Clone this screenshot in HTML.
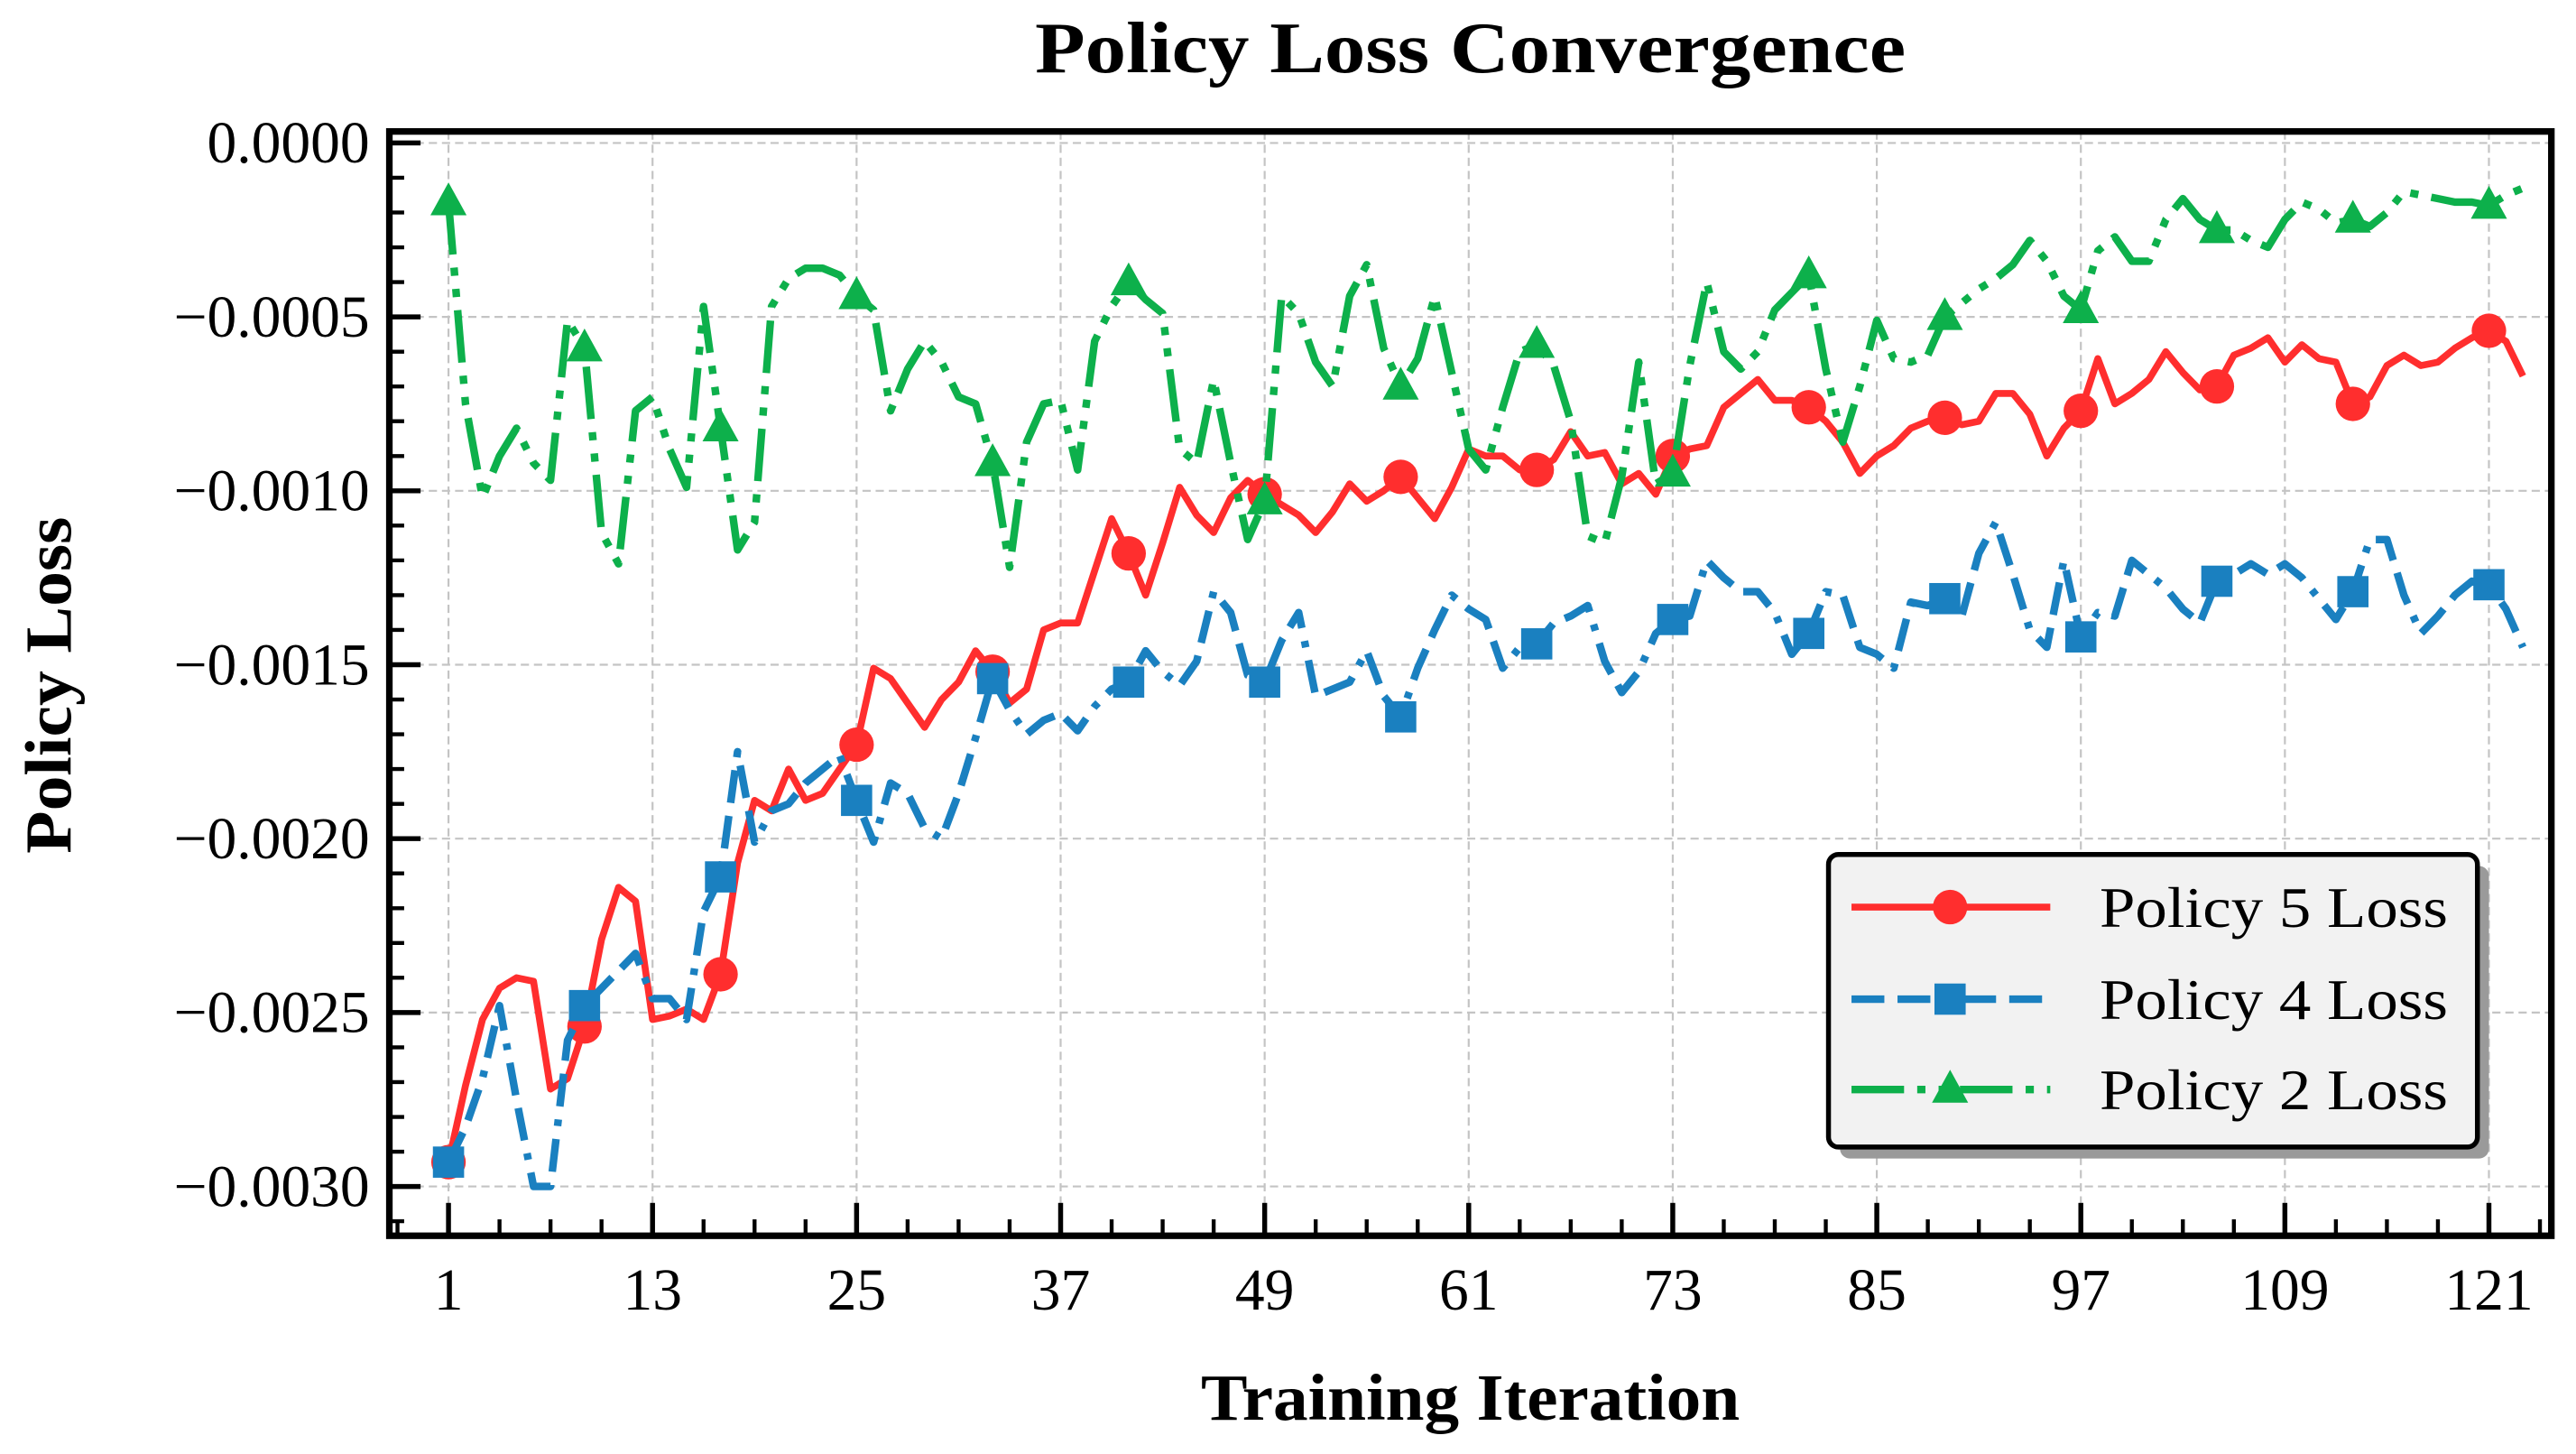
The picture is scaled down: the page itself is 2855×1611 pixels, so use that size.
<!DOCTYPE html>
<html>
<head>
<meta charset="utf-8">
<title>Policy Loss Convergence</title>
<style>
html,body{margin:0;padding:0;background:#fff;}
svg{display:block;}
text{font-family:"Liberation Serif","Times New Roman",serif;fill:#000;}
</style>
</head>
<body>
<svg id="chart" width="2855" height="1611" viewBox="0 0 1568 884.8" preserveAspectRatio="none" xmlns="http://www.w3.org/2000/svg">
  <rect x="0" y="0" width="1568" height="884.8" fill="#fff"/>
  <g id="grid"></g>
  <g id="series"></g>
  <g id="axes"></g>
  <text x="895" y="44" text-anchor="middle" font-size="44" font-weight="bold" textLength="530" lengthAdjust="spacingAndGlyphs">Policy Loss Convergence</text>
  <text x="895" y="864" text-anchor="middle" font-size="40" font-weight="bold" textLength="328" lengthAdjust="spacingAndGlyphs">Training Iteration</text>
  <text transform="translate(43,417) rotate(-90)" x="0" y="0" text-anchor="middle" font-size="40" font-weight="bold" textLength="205" lengthAdjust="spacingAndGlyphs">Policy Loss</text>
  <g id="legend"></g>
</svg>
<script>
const xTicks = [1, 13, 25, 37, 49, 61, 73, 85, 97, 109, 121];
const yTicks = [0, -0.0005, -0.001, -0.0015, -0.002, -0.0025, -0.003];
const yTickLabels = ["0.0000", "\u22120.0005", "\u22120.0010", "\u22120.0015", "\u22120.0020", "\u22120.0025", "\u22120.0030"];
const seriesNames = ["Policy 5 Loss", "Policy 4 Loss", "Policy 2 Loss"];

const policy5 = [-0.00293,-0.00271,-0.00252,-0.00243,-0.0024,-0.00241,-0.00272,-0.00269,-0.00254,-0.00229,
-0.00214,-0.00218,-0.00252,-0.00251,-0.00249,-0.00252,-0.00239,-0.00207,-0.00189,-0.00192,
-0.0018,-0.00189,-0.00187,-0.0018,-0.00173,-0.00151,-0.00154,-0.00161,-0.00168,-0.0016,
-0.00155,-0.00146,-0.00152,-0.00161,-0.00157,-0.0014,-0.00138,-0.00138,-0.00123,-0.00108,
-0.00118,-0.0013,-0.00115,-0.00099,-0.00107,-0.00112,-0.00102,-0.00097,-0.00101,-0.00104,
-0.00107,-0.00112,-0.00106,-0.00098,-0.00103,-0.001,-0.00096,-0.00102,-0.00108,-0.00099,
-0.00088,-0.0009,-0.0009,-0.00094,-0.00094,-0.00091,-0.00083,-0.0009,-0.00089,-0.00098,
-0.00095,-0.00101,-0.0009,-0.00088,-0.00087,-0.00076,-0.00072,-0.00068,-0.00074,-0.00074,
-0.00076,-0.0008,-0.00086,-0.00095,-0.0009,-0.00087,-0.00082,-0.0008,-0.00079,-0.00081,
-0.0008,-0.00072,-0.00072,-0.00078,-0.0009,-0.00082,-0.00077,-0.00062,-0.00075,-0.00072,
-0.00068,-0.0006,-0.00066,-0.00071,-0.0007,-0.00061,-0.00059,-0.00056,-0.00063,-0.00058,
-0.00062,-0.00063,-0.00075,-0.00073,-0.00064,-0.00061,-0.00064,-0.00063,-0.00059,-0.00056,
-0.00054,-0.00057,-0.00067];

const policy4 = [-0.00293,-0.00283,-0.00269,-0.00248,-0.00275,-0.003,-0.003,-0.00258,-0.00248,-0.00243,
-0.00238,-0.00233,-0.00246,-0.00246,-0.00252,-0.00221,-0.00211,-0.00175,-0.00201,-0.00192,
-0.0019,-0.00184,-0.0018,-0.00176,-0.00189,-0.00201,-0.00184,-0.00187,-0.00197,-0.002,
-0.00187,-0.00171,-0.00154,-0.00163,-0.0017,-0.00166,-0.00164,-0.00169,-0.00162,-0.00157,
-0.00155,-0.00146,-0.00152,-0.00156,-0.00149,-0.00129,-0.00135,-0.00153,-0.00155,-0.00143,
-0.00135,-0.00159,-0.00157,-0.00155,-0.00146,-0.00159,-0.00165,-0.00151,-0.0014,-0.0013,
-0.00134,-0.00137,-0.00151,-0.00145,-0.00144,-0.00138,-0.00136,-0.00133,-0.00149,-0.00158,
-0.00152,-0.00141,-0.00137,-0.00136,-0.0012,-0.00125,-0.00129,-0.00129,-0.00135,-0.00147,
-0.00141,-0.00129,-0.0013,-0.00145,-0.00147,-0.00151,-0.00132,-0.00133,-0.00131,-0.00136,
-0.00118,-0.00109,-0.00124,-0.0014,-0.00145,-0.0012,-0.00142,-0.00135,-0.00136,-0.0012,
-0.00124,-0.00128,-0.00134,-0.00138,-0.00126,-0.00124,-0.00121,-0.00124,-0.00121,-0.00125,
-0.00131,-0.00137,-0.00129,-0.00114,-0.00114,-0.0013,-0.00141,-0.00136,-0.0013,-0.00126,
-0.00127,-0.00134,-0.00145];

const policy2 = [-0.00017,-0.00075,-0.00102,-0.0009,-0.00082,-0.00092,-0.00097,-0.00051,-0.00059,-0.00112,
-0.00121,-0.00077,-0.00073,-0.00088,-0.00099,-0.00047,-0.00082,-0.00117,-0.00109,-0.00047,
-0.00039,-0.00036,-0.00036,-0.00038,-0.00044,-0.00048,-0.00077,-0.00065,-0.00057,-0.00063,
-0.00073,-0.00075,-0.00092,-0.00122,-0.00086,-0.00075,-0.00074,-0.00094,-0.00057,-0.00047,
-0.0004,-0.00045,-0.00049,-0.00088,-0.00092,-0.00068,-0.00092,-0.00114,-0.00103,-0.00044,
-0.00049,-0.00063,-0.0007,-0.00044,-0.00035,-0.00059,-0.0007,-0.00062,-0.00044,-0.00066,
-0.00088,-0.00094,-0.00076,-0.0006,-0.00058,-0.00064,-0.0008,-0.00113,-0.00115,-0.00096,
-0.00063,-0.00098,-0.00095,-0.00064,-0.0004,-0.0006,-0.00065,-0.0006,-0.00048,-0.00043,
-0.00038,-0.00065,-0.00086,-0.0007,-0.00051,-0.00062,-0.00063,-0.00061,-0.0005,-0.00046,
-0.00042,-0.00039,-0.00035,-0.00028,-0.00034,-0.00044,-0.00048,-0.00031,-0.00027,-0.00034,
-0.00034,-0.00022,-0.00016,-0.00022,-0.00025,-0.00025,-0.00028,-0.0003,-0.00022,-0.00017,
-0.00019,-0.00023,-0.00022,-0.00024,-0.0002,-0.00014,-0.00015,-0.00016,-0.00017,-0.00017,
-0.00018,-0.00015,-0.00013];

const NS = "http://www.w3.org/2000/svg";
const PL = 237, PR = 1553, PT = 80, PB = 752;
function xScale(i) { return 273 + (i - 1) * (1242 / 120); }
function yScale(v) { return 87 + (-v) * (635 / 0.003); }
function mk(tag, attrs, parent) {
  const el = document.createElementNS(NS, tag);
  for (const k in attrs) el.setAttribute(k, attrs[k]);
  parent.appendChild(el);
  return el;
}
const grid = document.getElementById("grid");
const axes = document.getElementById("axes");
const seriesG = document.getElementById("series");
const legend = document.getElementById("legend");

xTicks.forEach(t => {
  const l = mk("line", {x1: xScale(t), x2: xScale(t), y1: PT, y2: PB, stroke: "#c4c4c4", "stroke-width": 1.2, "stroke-dasharray": "5 3"}, grid);
  
  
});
yTicks.forEach(t => {
  const l = mk("line", {x1: PL, x2: PR, y1: yScale(t), y2: yScale(t), stroke: "#c4c4c4", "stroke-width": 1.2, "stroke-dasharray": "5 3"}, grid);
  
  
});

const seriesData = [policy5, policy4, policy2];
const colors = ["#ff2e2e", "#1a80c0", "#0db04b"];
const dashes = ["none", "20 8 20 8 4 8", "32 8 5 8 5 8"];
const widths = [4.2, 4.6, 4.6];
const seriesKeys = ["policy-5", "policy-4", "policy-2"];

function marker(kind, cx, cy, color, parent) {
  let m;
  if (kind === 0) m = mk("circle", {cx: cx, cy: cy, r: 10.5, fill: color}, parent);
  else if (kind === 1) m = mk("rect", {x: cx - 9.5, y: cy - 9.5, width: 19, height: 19, fill: color}, parent);
  else m = mk("polygon", {points: (cx) + "," + (cy - 12) + " " + (cx - 11) + "," + (cy + 8) + " " + (cx + 11) + "," + (cy + 8), fill: color}, parent);
  return m;
}

seriesData.forEach((arr, s) => {
  const pts = arr.map((v, i) => xScale(i + 1).toFixed(2) + "," + yScale(v).toFixed(2)).join(" ");
  const pl = mk("polyline", {points: pts, fill: "none", stroke: colors[s], "stroke-width": widths[s], "stroke-linejoin": "round", "stroke-dasharray": dashes[s]}, seriesG);
  
  
  for (let i = 0; i < arr.length; i += 8) {
    const m = marker(s, xScale(i + 1), yScale(arr[i]), colors[s], seriesG);
    
    
  }
});

const frame = mk("rect", {x: PL, y: PT, width: PR - PL, height: PB - PT, fill: "none", stroke: "#000", "stroke-width": 4}, axes);



for (let t = -2; t <= 124; t += 3) {
  const major = ((t - 1) % 12 === 0);
  const len = major ? 20 : 10;
  const tk = mk("line", {x1: xScale(t), x2: xScale(t), y1: PB, y2: PB - len, stroke: "#000", "stroke-width": major ? 3 : 2.4}, axes);
  
  
}
xTicks.forEach(t => {
  const tx = mk("text", {x: xScale(t), y: 797, "text-anchor": "middle", "font-size": 36}, axes);
  tx.textContent = String(t);
  
  
});

for (let k = 0; k <= 31; k++) {
  const v = -k * 0.0001;
  const major = (k % 5 === 0);
  const len = major ? 19 : 9;
  const tk = mk("line", {x1: PL, x2: PL + len, y1: yScale(v), y2: yScale(v), stroke: "#000", "stroke-width": major ? 3 : 2.4}, axes);
  
  
}
yTicks.forEach((t, i) => {
  const tx = mk("text", {x: 225, y: yScale(t) + 12, "text-anchor": "end", "font-size": 36}, axes);
  tx.textContent = yTickLabels[i];
  
  
});

const sh = mk("rect", {x: 1120, y: 527, width: 395, height: 178, rx: 6, fill: "#9a9a9a"}, legend);


const box = mk("rect", {x: 1113, y: 520, width: 395, height: 178, rx: 6, fill: "#f2f2f2", stroke: "#000", "stroke-width": 3}, legend);


const legY = [552, 608, 663];
seriesNames.forEach((name, s) => {
  const g = mk("g", {}, legend);
  
  
  const ln = mk("line", {x1: 1127, x2: 1248, y1: legY[s], y2: legY[s], stroke: colors[s], "stroke-width": widths[s], "stroke-dasharray": dashes[s]}, g);
  
  
  const m = marker(s, 1187, legY[s], colors[s], g);
  
  
  const tx = mk("text", {x: 1278, y: legY[s] + 12, "font-size": 35, textLength: 212, lengthAdjust: "spacingAndGlyphs"}, g);
  tx.textContent = name;
  
  
});
</script>
</body>
</html>
